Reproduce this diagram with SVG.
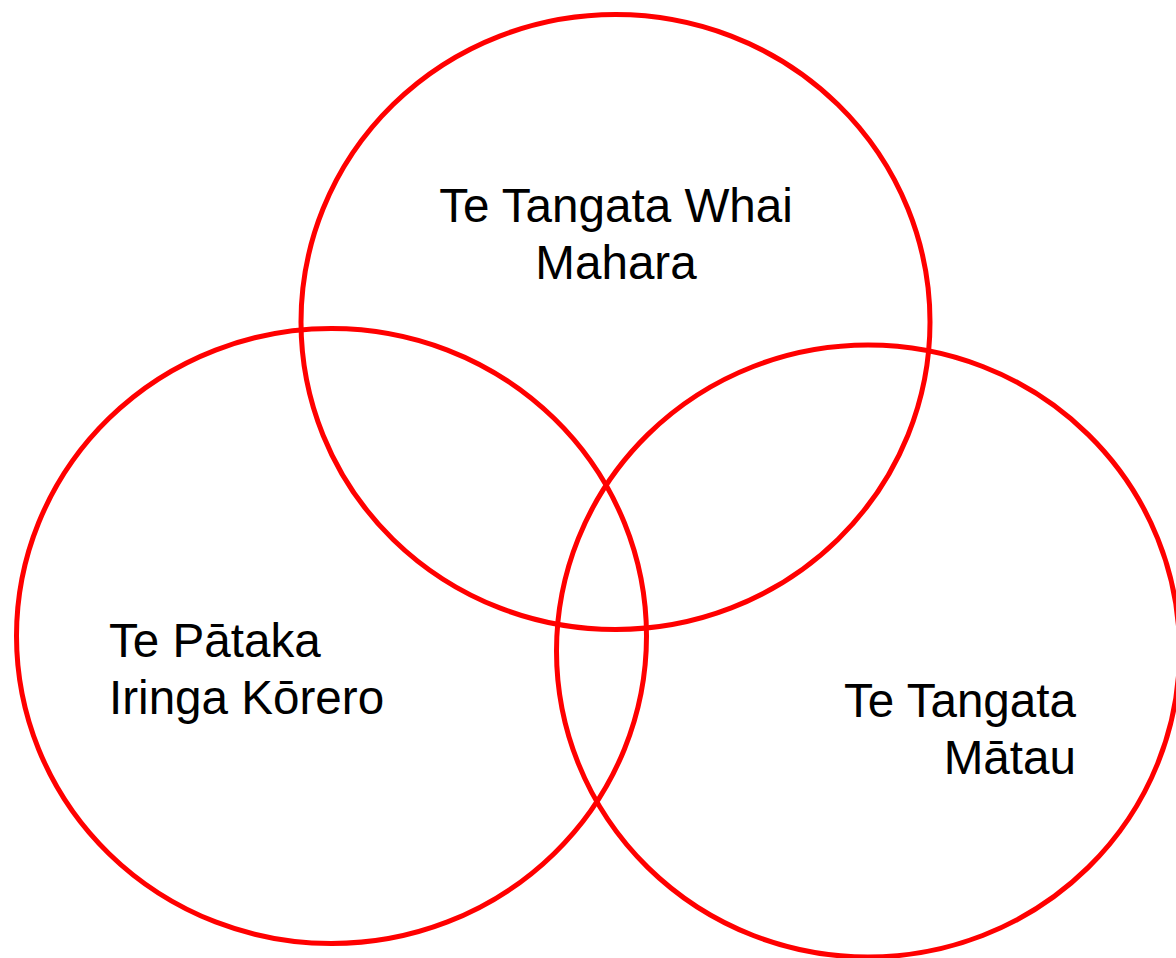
<svg xmlns="http://www.w3.org/2000/svg" width="1176" height="958" viewBox="0 0 1176 958">
<style>
.c{fill:none;stroke:#FF0000;stroke-width:5}
.t{font-family:"Liberation Sans",Arial,sans-serif;font-size:47.6px;fill:#000}
</style>
<rect width="1176" height="958" fill="#fff"/>
<g id="top">
<ellipse class="c" cx="615.5" cy="322" rx="314.5" ry="307.5"/>
<text class="t" text-anchor="middle"><tspan x="616" y="222">Te Tangata Whai</tspan><tspan x="616" y="279">Mahara</tspan></text>
</g>
<g id="left">
<ellipse class="c" cx="331.5" cy="636" rx="315" ry="307.5"/>
<text class="t"><tspan x="109" y="657">Te Pātaka</tspan><tspan x="109" y="714">Iringa Kōrero</tspan></text>
</g>
<g id="right">
<ellipse class="c" cx="868" cy="651" rx="311.5" ry="306"/>
<text class="t" text-anchor="end"><tspan x="1076" y="717">Te Tangata</tspan><tspan x="1076" y="774">Mātau</tspan></text>
</g>
<g id="connectors"/>
</svg>
